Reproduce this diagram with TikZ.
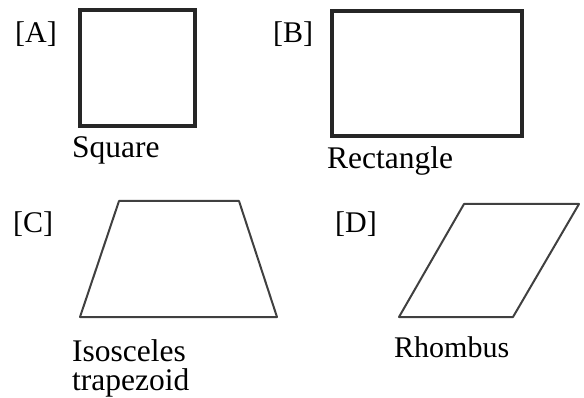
\documentclass[tikz,border=0pt]{standalone}
\usepackage{fontspec}
\setmainfont{Liberation Serif}
\begin{document}
\begin{tikzpicture}[x=1pt,y=-1pt,
  lbl/.style={anchor=base west,inner sep=0pt,font=\fontsize{31.5}{31}\selectfont,text=black},
  brk/.style={anchor=base west,inner sep=0pt,font=\fontsize{30}{31}\selectfont,text=black},
  thickshape/.style={draw=black!85,line width=3.2pt,line join=miter},
  thinshape/.style={draw=black!75,line width=2pt,line join=round}]
\useasboundingbox (0,0) rectangle (584,398);
% shapes
\draw[thickshape] (80,10) rectangle (195,126);
\draw[thickshape] (332,11) rectangle (522,136);
\draw[thinshape] (119,201) -- (239,201) -- (277,317) -- (80,317) -- cycle;
\draw[thinshape] (464,204) -- (579,204) -- (513,317) -- (399,317) -- cycle;
% labels
\node[brk] (la) at (15,43) {[A]};
\node[lbl] (ta) at (72,158) {Square};
\node[brk] (lb) at (273,43) {[B]};
\node[lbl] (tb) at (327,169) {Rectangle};
\node[brk] (lc) at (13,233) {[C]};
\node[lbl] (tc1) at (72,361) {Isosceles};
\node[lbl] (tc2) at (72,390) {trapezoid};
\node[brk] (ld) at (335,233) {[D]};
\node[brk] (td) at (394,357) {Rhombus};
\end{tikzpicture}
\end{document}
